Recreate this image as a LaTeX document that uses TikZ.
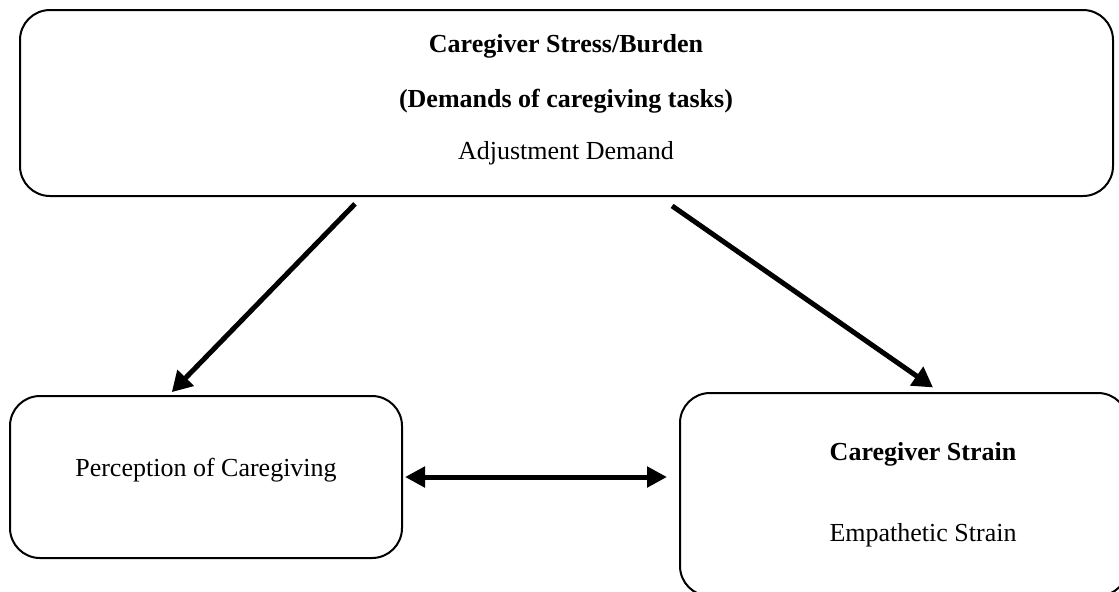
\documentclass[tikz,border=0pt]{standalone}
\usepackage{fontspec}
\setmainfont{Liberation Serif}
\usetikzlibrary{arrows.meta,calc}

\tikzset{
    box/.style={draw, line width=1pt, rounded corners=15pt},
    txt/.style={anchor=base, inner sep=0pt, font=\fontsize{13}{16}\selectfont},
    flow/.style={line width=2.5pt, -{Triangle[length=10pt,width=11pt]}},
    bothflow/.style={line width=2.5pt,
        {Triangle[length=10pt,width=10pt]}-{Triangle[length=10pt,width=10pt]}},
}

\begin{document}
\begin{tikzpicture}[x=0.5pt,y=-0.5pt]
    \useasboundingbox (0,0) rectangle (1119,591);

    % boxes
    \node[box, minimum width=546.5pt, minimum height=93pt] (stress) at (566.5,103) {};
    \node[box, minimum width=196pt, minimum height=81pt] (percep) at (206,477) {};
    \node[box, minimum width=224pt, minimum height=101.5pt] (strain) at (904,494.5) {};

    % texts
    \node[txt] (stresstitle) at (566,52) {\textbf{Caregiver Stress/Burden}};
    \node[txt] (demands) at (566,107.5) {\textbf{(Demands of caregiving tasks)}};
    \node[txt] (adjust) at (566,159) {Adjustment Demand};
    \node[txt] (perceptext) at (206,476) {Perception of Caregiving};
    \node[txt] (straintitle) at (923,460) {\textbf{Caregiver Strain}};
    \node[txt] (empath) at (923,541) {Empathetic Strain};

    % arrows
    \draw[flow, shorten <=4.8pt, shorten >=2pt]
        ([xshift=-102.4pt]stress.south) -- ([xshift=-18.5pt]percep.north);
    \draw[flow, shorten <=7.8pt, shorten >=4pt]
        ([xshift=46.4pt]stress.south) -- ([xshift=17.8pt]strain.north);
    \draw[bothflow, shorten <=1pt, shorten >=6pt]
        (percep.east) -- (percep.east -| strain.west);
\end{tikzpicture}
\end{document}
